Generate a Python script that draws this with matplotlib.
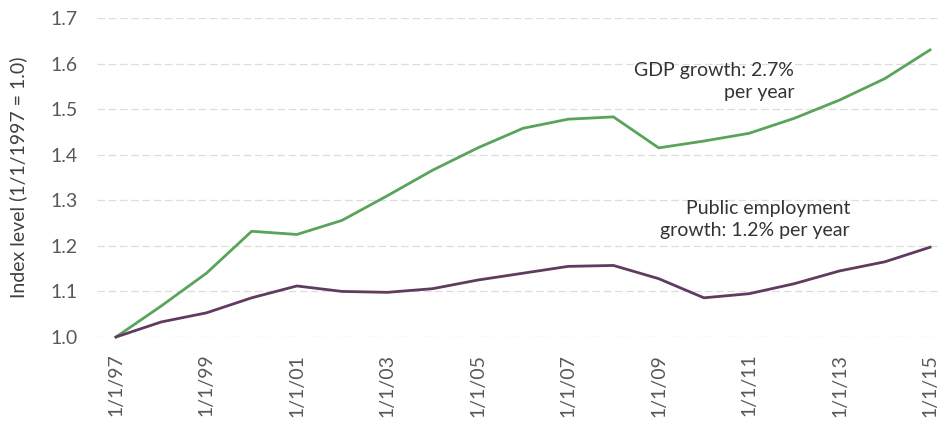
import matplotlib
matplotlib.use("Agg")
from matplotlib import pyplot as plt

plt.rcParams['font.family'] = ['Lato', 'DejaVu Sans']

years = list(range(1997, 2016))
gdp = [1.000, 1.068, 1.140, 1.232, 1.225, 1.256, 1.310, 1.366, 1.415, 1.458,
       1.478, 1.483, 1.415, 1.430, 1.447, 1.480, 1.520, 1.567, 1.630]
public_emp = [1.000, 1.033, 1.053, 1.086, 1.112, 1.100, 1.098, 1.106, 1.125, 1.140,
              1.155, 1.157, 1.128, 1.086, 1.095, 1.117, 1.145, 1.165, 1.197]
tick_years = years[::2]
tick_labels = ['1/1/%02d' % (y % 100) for y in tick_years]
y_ticks = [1.0, 1.1, 1.2, 1.3, 1.4, 1.5, 1.6, 1.7]

fig = plt.figure(figsize=(9.41, 4.26), dpi=100)
ax = fig.add_axes([97/941, 89/426, 843/941, 319/426])

ax.plot(years, gdp, color='#5aa35a', lw=2, clip_on=False, zorder=3)
ax.plot(years, public_emp, color='#5f3b5f', lw=2, clip_on=False, zorder=3)

ax.set_xlim(1997 - 0.42, 2015 + 0.22)
ax.set_ylim(1.0, 1.7)
ax.set_yticks(y_ticks)
ax.set_yticklabels(['%.1f' % v for v in y_ticks])
ax.set_xticks(tick_years)
ax.set_xticklabels(tick_labels, rotation=90)
ax.tick_params(axis='both', length=0, labelsize=14, colors='#595959')
ax.tick_params(axis='y', pad=14)
ax.tick_params(axis='x', pad=12)

for v in y_ticks:
    ax.axhline(v, color='#dddddd', lw=0.9, ls=(0, (6, 3)), zorder=1)

for s in ax.spines.values():
    s.set_visible(False)

ax.set_ylabel('Index level (1/1/1997 = 1.0)', fontsize=14, color='#404040', labelpad=17)

ax.text(2012.0, 1.561, 'GDP growth: 2.7%\nper year', ha='right', va='center',
        fontsize=14, color='#333333', linespacing=1.4)
ax.text(2013.23, 1.258, 'Public employment\ngrowth: 1.2% per year', ha='right', va='center',
        fontsize=14, color='#333333', linespacing=1.4)

fig.savefig('out.png', dpi=100)
